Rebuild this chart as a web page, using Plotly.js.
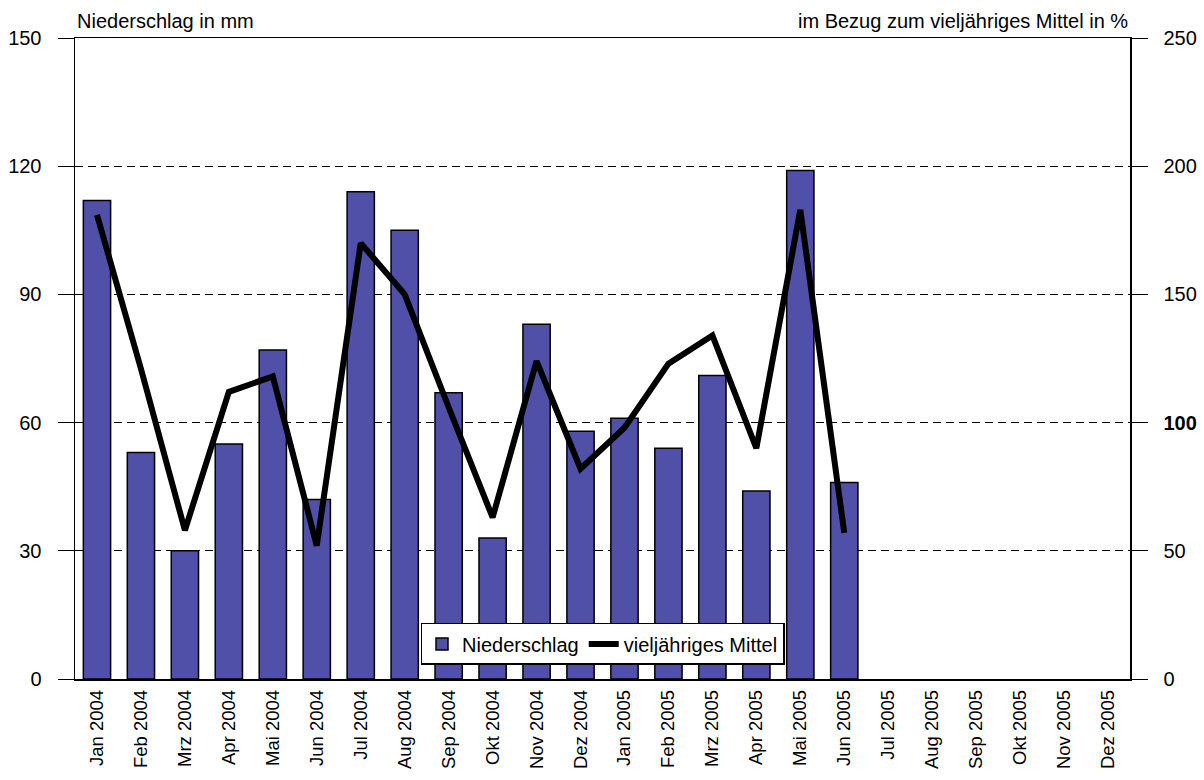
<!DOCTYPE html>
<html>
<head>
<meta charset="utf-8">
<script src="https://cdn.plot.ly/plotly-3.0.1.min.js"></script>
<style>html,body{margin:0;padding:0;background:#fff;}#chart{width:1204px;height:780px;}</style>
</head>
<body>
<div id="chart"></div>
<script>
const categories = ["Jan 2004","Feb 2004","Mrz 2004","Apr 2004","Mai 2004","Jun 2004","Jul 2004","Aug 2004","Sep 2004","Okt 2004","Nov 2004","Dez 2004","Jan 2005","Feb 2005","Mrz 2005","Apr 2005","Mai 2005","Jun 2005","Jul 2005","Aug 2005","Sep 2005","Okt 2005","Nov 2005","Dez 2005"];
const niederschlag = [112,53,30,55,77,42,114,105,67,33,83,58,61,54,71,44,119,46];
const mittelProzent = [181,121,58,112,118,52,170,150,106,63,124,82,98,123,134,90,183,57];
const leftTicks = [0,30,60,90,120,150];
const rightTicks = [0,50,100,150,200,250];
const rightTickText = ["0","50","<b>100</b>","150","200","250"];

const font = {family: "Liberation Sans, Arial, sans-serif", size: 20, color: "#000"};
const xfont = {family: "Liberation Sans, Arial, sans-serif", size: 18.5, color: "#000"};

const traces = [
  {
    type: "bar",
    name: "Niederschlag",
    x: categories.slice(0, niederschlag.length),
    y: niederschlag,
    marker: {color: "#5050a8", line: {color: "#000", width: 1.5}},
    yaxis: "y"
  },
  {
    type: "scatter",
    mode: "lines",
    name: "vieljähriges Mittel",
    x: categories.slice(0, mittelProzent.length),
    y: mittelProzent,
    line: {color: "#000", width: 6},
    yaxis: "y2"
  }
];

const layout = {
  width: 1204, height: 780,
  margin: {l: 75, r: 74, t: 38, b: 101},
  paper_bgcolor: "#fff", plot_bgcolor: "#fff",
  font: font,
  bargap: 0.38,
  showlegend: true,
  legend: {
    orientation: "h",
    x: 0.5, xanchor: "center",
    y: 0.022, yanchor: "bottom",
    bgcolor: "#fff", bordercolor: "#000", borderwidth: 1.5,
    font: font,
    itemwidth: 30,
    tracegroupgap: 0
  },
  xaxis: {
    type: "category",
    categoryorder: "array",
    categoryarray: categories,
    tickvals: categories,
    range: [-0.5, 23.5],
    tickangle: -90,
    ticks: "",
    ticklabelstandoff: 2,
    showline: true, linecolor: "#000", linewidth: 1.5,
    mirror: true,
    showgrid: false,
    tickfont: xfont,
    fixedrange: true
  },
  yaxis: {
    range: [0, 150],
    tickvals: leftTicks,
    ticks: "outside", ticklen: 16, tickcolor: "#000", tickwidth: 1,
    showline: true, linecolor: "#000", linewidth: 1.5,
    showgrid: true, gridcolor: "#000", gridwidth: 1, griddash: "8px,5px",
    zeroline: false,
    tickfont: font,
    ticklabelstandoff: 12
  },
  yaxis2: {
    overlaying: "y", side: "right",
    range: [0, 250],
    tickvals: rightTicks, ticktext: rightTickText,
    ticks: "outside", ticklen: 16, tickcolor: "#000", tickwidth: 1,
    showline: true, linecolor: "#000", linewidth: 1.5,
    showgrid: false, zeroline: false,
    tickfont: font,
    ticklabelstandoff: 12
  },
  annotations: [
    {text: "Niederschlag in mm", xref: "paper", yref: "paper", x: 0, y: 1, xanchor: "left", yanchor: "bottom", yshift: 4, showarrow: false, font: font},
    {text: "im Bezug zum vieljähriges Mittel in %", xref: "paper", yref: "paper", x: 1, y: 1, xanchor: "right", yanchor: "bottom", yshift: 4, showarrow: false, font: font}
  ]
};

Plotly.newPlot("chart", traces, layout, {displayModeBar: false, staticPlot: true});
</script>
</body>
</html>
